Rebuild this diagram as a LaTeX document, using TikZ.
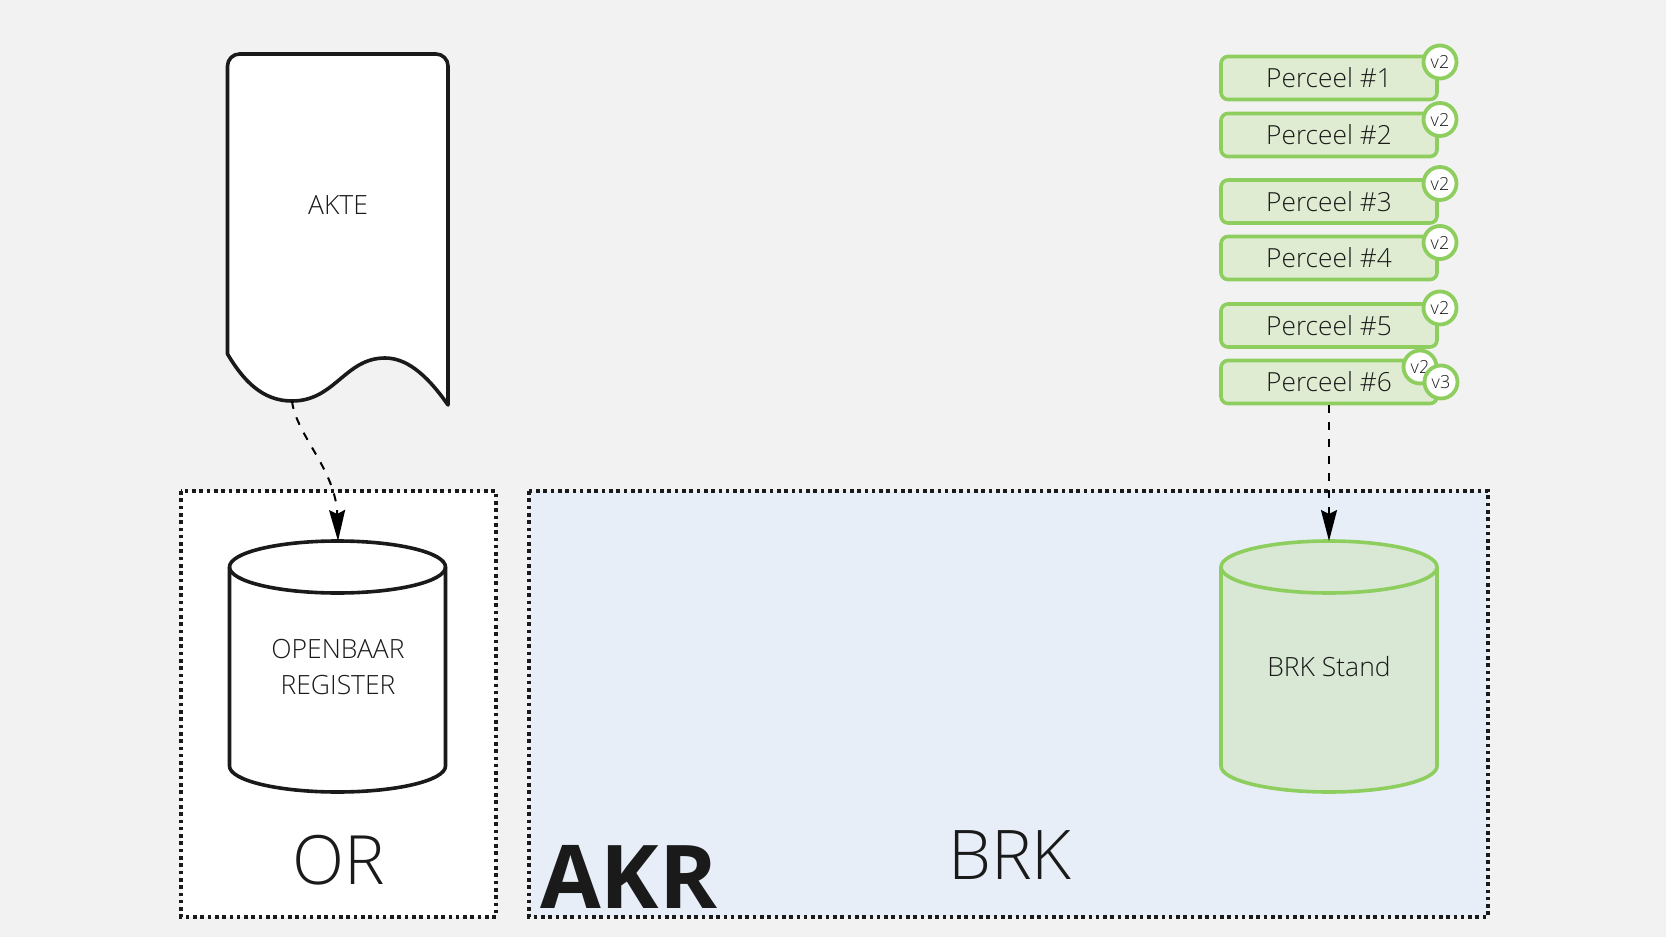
\documentclass[tikz,border=0pt]{standalone}
\usepackage{fontspec}
\setmainfont{Open Sans}[UprightFont=* Light,BoldFont=* Bold]
\usetikzlibrary{arrows.meta}
\definecolor{bgc}{HTML}{F2F2F2}
\definecolor{ink}{HTML}{1A1A1A}
\definecolor{grn}{HTML}{8DCE5E}
\definecolor{grnfill}{HTML}{DFECD2}
\definecolor{cylfill}{HTML}{D8E8D5}
\definecolor{brkfill}{HTML}{E8EEF8}
\tikzset{
  x=1pt,y=-1pt,
  zone/.style={draw=ink,line width=3.2pt,dash pattern=on 3.6pt off 3.7pt},
  parcel/.style={draw=grn,fill=grnfill,line width=3.6pt,rounded corners=7pt,minimum width=216pt,minimum height=43pt,inner sep=0pt,text=ink,font=\fontsize{26.3}{30}\selectfont},
  ver/.style={circle,draw=grn,fill=white,line width=3.8pt,minimum size=33pt,inner sep=0pt,text=ink,font=\fontsize{18}{20}\selectfont},
  lbl/.style={text=ink,align=center,inner sep=0pt,font=\fontsize{26.5}{36}\selectfont},
  big/.style={text=ink,inner sep=0pt},
  flow/.style={draw=black,line width=2pt,dash pattern=on 8pt off 9pt,-{Stealth[length=31pt,width=16pt,inset=4pt]}}
}
\begin{document}
\begin{tikzpicture}
\useasboundingbox (0,0) rectangle (1666,937);
\fill[bgc] (0,0) rectangle (1666,937);
% zones
\path[fill=white] (181,491) rectangle (496,917);
\draw[zone] (181,491) rectangle (496,917);
\path[fill=brkfill] (529,491) rectangle (1488,917);
\draw[zone] (529,491) rectangle (1488,917);
\node[big,anchor=center,font=\fontsize{68}{70}\selectfont] (orl) at (339,860) {OR};
\node[big,anchor=center,font=\fontsize{68.5}{72}\selectfont] (brkl) at (1010,855) {BRK};
\node[text=ink,inner sep=0pt,anchor=base west,font=\fontsize{88}{90}\selectfont\bfseries] (akr) at (540,908) {AKR};
% document
\draw[ink,fill=white,line width=3.6pt,line join=round]
  (227.5,354) -- (227.5,66) arc[start angle=180,end angle=270,radius=12] -- (436,54) arc[start angle=270,end angle=360,radius=12] -- (448,405)
  .. controls (425,372) and (405,358) .. (385,358) .. controls (345,358) and (335,401) .. (292,401)
  .. controls (262,401) and (243,380) .. (227.5,354) -- cycle;
\coordinate (akteb) at (292,401);
\node[lbl] (akte) at (338,205) {AKTE};
% cylinder OR
\draw[ink,fill=white,line width=3.6pt]
  (229.5,567) arc[start angle=180,end angle=360,x radius=108,y radius=26] -- (445.5,766)
  arc[start angle=0,end angle=180,x radius=108,y radius=26] -- cycle;
\draw[ink,line width=3.6pt] (229.5,567) arc[start angle=180,end angle=0,x radius=108,y radius=26];
\coordinate (ortop) at (338,541);
\node[lbl] (orreg) at (338,667) {OPENBAAR\\REGISTER};
% cylinder BRK
\draw[grn,fill=cylfill,line width=3.6pt]
  (1221,567) arc[start angle=180,end angle=360,x radius=108,y radius=26] -- (1437,766)
  arc[start angle=0,end angle=180,x radius=108,y radius=26] -- cycle;
\draw[grn,line width=3.6pt] (1221,567) arc[start angle=180,end angle=0,x radius=108,y radius=26];
\coordinate (brktop) at (1329,541);
\node[lbl] (brkst) at (1329,667) {BRK Stand};
% parcels
\node[parcel] (p1) at (1329,78) {Perceel \#1};
\node[parcel] (p2) at (1329,135) {Perceel \#2};
\node[parcel] (p3) at (1329,201.5) {Perceel \#3};
\node[parcel] (p4) at (1329,258) {Perceel \#4};
\node[parcel] (p5) at (1329,325.5) {Perceel \#5};
\node[parcel] (p6) at (1329,382) {Perceel \#6};
\node[ver] (v1) at (1440,62) {v2};
\node[ver] (v2n) at (1440,119.5) {v2};
\node[ver] (v3n) at (1440,183.5) {v2};
\node[ver] (v4) at (1440,242.5) {v2};
\node[ver] (v5) at (1440,308) {v2};
\node[ver] (v6a) at (1420,367) {v2};
\node[ver] (v6b) at (1441,382) {v3};
% connectors
\draw[flow] (akteb) .. controls (296,435) and (336,470) .. (ortop);
\draw[flow] (p6.south) -- (brktop);
\end{tikzpicture}
\end{document}
